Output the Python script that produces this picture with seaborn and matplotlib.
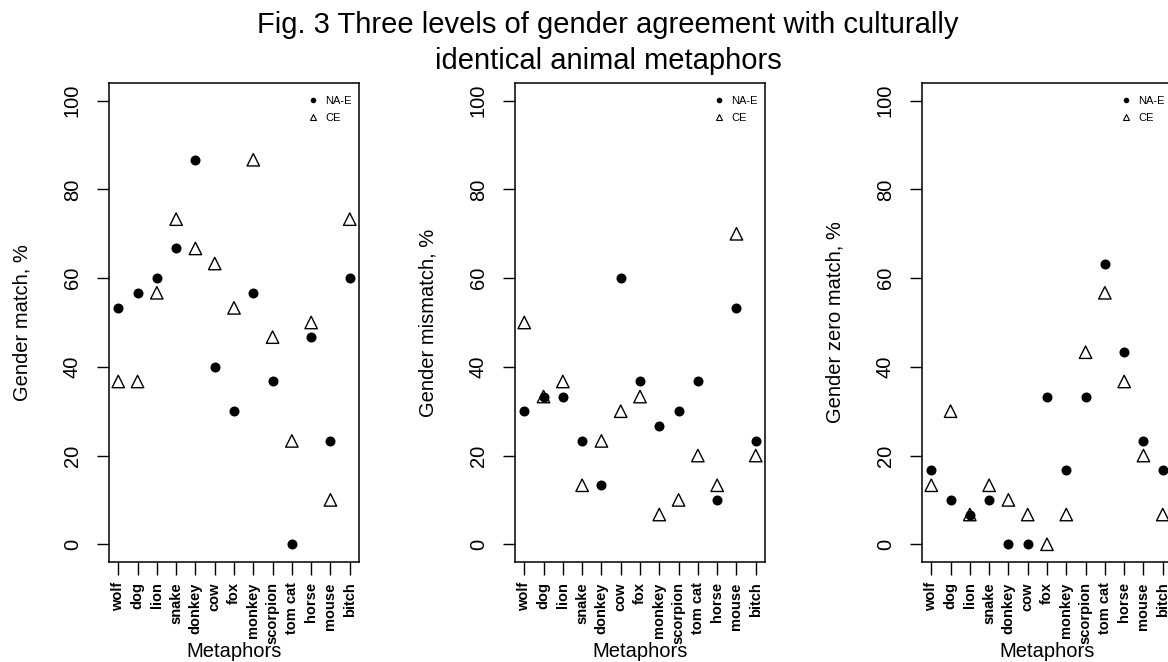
import matplotlib
matplotlib.use("Agg")
import matplotlib.pyplot as plt
from matplotlib.lines import Line2D
import pandas as pd
import seaborn as sns

# animal metaphors on the x axis
metaphors = ["wolf", "dog", "lion", "snake", "donkey", "cow", "fox",
             "monkey", "scorpion", "tom cat", "horse", "mouse", "bitch"]

# % values (NA-E = filled dots, CE = open triangles)
match_nae = [53.3, 56.7, 60, 66.7, 86.7, 40, 30, 56.7, 36.7, 0, 46.7, 23.3, 60]
match_ce = [36.7, 36.7, 56.7, 73.3, 66.7, 63.3, 53.3, 86.7, 46.7, 23.3, 50, 10, 73.3]
mismatch_nae = [30, 33.3, 33.3, 23.3, 13.3, 60, 36.7, 26.7, 30, 36.7, 10, 53.3, 23.3]
mismatch_ce = [50, 33.3, 36.7, 13.3, 23.3, 30, 33.3, 6.7, 10, 20, 13.3, 70, 20]
zero_nae = [16.7, 10, 6.7, 10, 0, 0, 33.3, 16.7, 33.3, 63.3, 43.3, 23.3, 16.7]
zero_ce = [13.3, 30, 6.7, 13.3, 10, 6.7, 0, 6.7, 43.3, 56.7, 36.7, 20, 6.7]

y_labels = ["Gender match, %", "Gender mismatch, %", "Gender zero match, %"]
y_ticks = [0, 20, 40, 60, 80, 100]
panels = [(match_nae, match_ce), (mismatch_nae, mismatch_ce), (zero_nae, zero_ce)]

sns.set_style("white")
plt.rcParams["font.family"] = ["Liberation Sans", "DejaVu Sans"]
for key in ["text.color", "axes.labelcolor", "xtick.color", "ytick.color"]:
    plt.rcParams[key] = "black"

W, H = 1168, 662
fig = plt.figure(figsize=(W / 100, H / 100), dpi=100)

# axes boxes in pixels: left edges, top, bottom, width
lefts = [109, 515, 922]
top, bottom, width = 83, 562, 250

for i, (nae, ce) in enumerate(panels):
    ax = fig.add_axes([lefts[i] / W, (H - bottom) / H, width / W, (bottom - top) / H])
    df = pd.DataFrame({"metaphor": metaphors, "NA-E": nae, "CE": ce})

    sns.scatterplot(data=df, x="metaphor", y="NA-E", ax=ax, color="black",
                    marker="o", s=52, linewidth=0)
    sns.scatterplot(data=df, x="metaphor", y="CE", ax=ax, marker="^", s=80,
                    facecolor="none", edgecolor="black", linewidth=1.0)

    ax.set_xlim(-0.48, len(metaphors) - 1 + 0.48)
    ax.set_ylim(-4, 104)
    ax.set_yticks(y_ticks)
    ax.set_yticklabels([str(t) for t in y_ticks], rotation=90, va="center")
    ax.tick_params(axis="x", labelrotation=90, labelsize=10.5, length=9.5,
                   width=1, pad=5, direction="out", bottom=True)
    ax.tick_params(axis="y", labelsize=14.5, length=8.5, width=1, pad=11,
                   direction="out", left=True)
    for lab in ax.get_xticklabels():
        lab.set_fontweight("bold")

    for sp in ax.spines.values():
        sp.set_color("black")
        sp.set_linewidth(1.1)

    ax.set_xlabel("Metaphors", fontsize=14.5)
    ax.xaxis.set_label_coords(0.5, -0.168)
    ax.set_ylabel(y_labels[i], fontsize=14.5)
    ax.yaxis.set_label_coords(-0.31, 0.5)

    handles = [Line2D([], [], marker="o", ms=3, color="black", ls="none"),
               Line2D([], [], marker="^", ms=5, mfc="none", mec="black",
                      mew=0.8, ls="none")]
    ax.legend(handles, ["NA-E", "CE"], loc="upper right", frameon=False,
              fontsize=8, handlelength=1, handletextpad=0.6, labelspacing=0.7,
              borderaxespad=0, borderpad=0.4, bbox_to_anchor=(0.99, 0.983))

fig.text(608 / W, 0.984,
         "Fig. 3 Three levels of gender agreement with culturally\nidentical animal metaphors",
         ha="center", va="top", fontsize=21, linespacing=1.4)

fig.savefig("out.png", dpi=100)
